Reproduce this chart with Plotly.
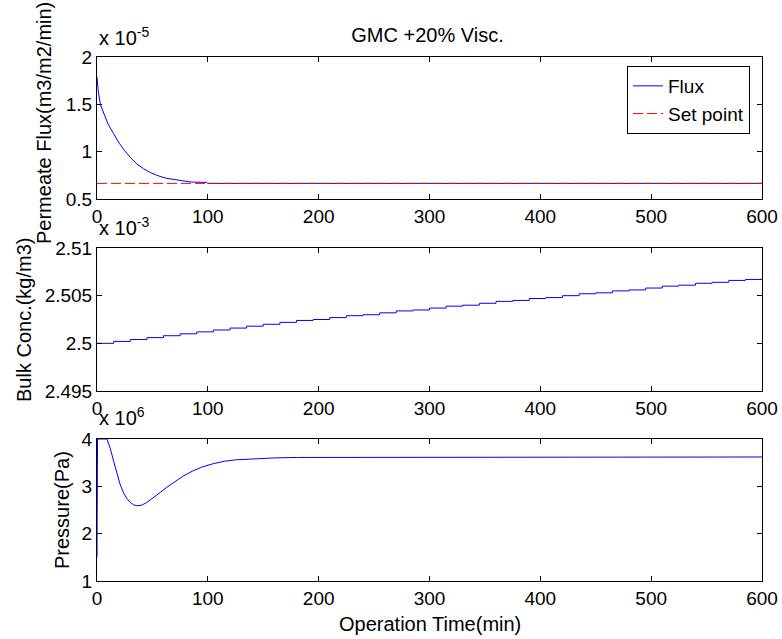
import plotly.graph_objects as go

# ---------------- data ----------------
# Permeate flux (x 1e-5 m3/m2/min)
flux_t = [0, 1, 3, 6, 10, 15, 20, 25, 30, 36, 42, 48, 54, 62, 72, 84, 99, 100, 600]
flux_v = [1.79, 1.65, 1.50, 1.40, 1.29, 1.19, 1.09, 1.01, 0.94, 0.87, 0.82, 0.78,
          0.75, 0.72, 0.70, 0.68, 0.675, 0.665, 0.665]
setpoint_t = [0, 600]
setpoint_v = [0.665, 0.665]

# Bulk concentration (x 1e-3 kg/m3), stepwise every 15 min
conc_t = [0, 15, 30, 45, 60, 75, 90, 105, 120, 135, 150, 165, 180, 195, 210, 225, 240,
          255, 270, 285, 300, 315, 330, 345, 360, 375, 390, 405, 420, 435, 450, 465,
          480, 495, 510, 525, 540, 555, 570, 585, 600]
conc_v = [2.5000, 2.5002, 2.5004, 2.5006, 2.5008, 2.5010, 2.5012, 2.5014, 2.5016,
          2.5018, 2.5020, 2.5022, 2.5024, 2.5025, 2.5027, 2.5029, 2.5030, 2.5032,
          2.5034, 2.5035, 2.5037, 2.5039, 2.5040, 2.5042, 2.5044, 2.5045, 2.5047,
          2.5048, 2.5050, 2.5052, 2.5053, 2.5055, 2.5056, 2.5058, 2.5060, 2.5061,
          2.5063, 2.5064, 2.5066, 2.5067, 2.5068]

# Pressure (x 1e6 Pa)
pres_t = [0, 0.5, 9, 12, 15, 18, 21, 24, 27, 30, 33, 36, 40, 45, 51, 57, 63, 70, 78,
          86, 95, 105, 115, 125, 140, 160, 180, 600]
pres_v = [1.5, 4.0, 4.0, 3.80, 3.53, 3.25, 3.03, 2.86, 2.74, 2.66, 2.61, 2.59, 2.60,
          2.66, 2.76, 2.87, 2.98, 3.10, 3.22, 3.32, 3.41, 3.48, 3.53, 3.56, 3.58,
          3.60, 3.61, 3.62]

x_ticks = [0, 100, 200, 300, 400, 500, 600]
flux_ticks = [0.5, 1, 1.5, 2]
conc_ticks = [2.495, 2.5, 2.505, 2.51]
conc_ticktext = ["2.495", "2.5", "2.505", "2.51"]
pres_ticks = [1, 2, 3, 4]

title = "GMC +20% Visc."
FONT = "Arial, Liberation Sans, sans-serif"
TICK_SIZE = 19
LABEL_SIZE = 20

# ---------------- figure ----------------
fig = go.Figure()
fig.add_trace(go.Scatter(x=flux_t, y=flux_v, mode="lines", name="Flux",
                         line=dict(color="#0000ff", width=1), xaxis="x", yaxis="y"))
fig.add_trace(go.Scatter(x=setpoint_t, y=setpoint_v, mode="lines", name="Set point",
                         line=dict(color="#ff0000", width=1, dash="10px,4px"),
                         xaxis="x", yaxis="y"))
fig.add_trace(go.Scatter(x=conc_t, y=conc_v, mode="lines", showlegend=False,
                         line=dict(color="#0000ff", width=1, shape="hv"),
                         xaxis="x2", yaxis="y2"))
fig.add_trace(go.Scatter(x=pres_t, y=pres_v, mode="lines", showlegend=False,
                         line=dict(color="#0000ff", width=1),
                         xaxis="x3", yaxis="y3"))

H_TOP, H_BOT = 57, 581
def py(p):
    return (H_BOT - p) / (H_BOT - H_TOP)
def px(p):
    return (p - 97) / 665

axis_common = dict(showline=True, linecolor="#000000", linewidth=1, mirror="allticks",
                   ticks="inside", ticklen=5, tickcolor="#000000", showgrid=False,
                   zeroline=False, tickfont=dict(family=FONT, size=TICK_SIZE, color="#000"))

fig.update_layout(
    width=782, height=639,
    margin=dict(l=97, r=20, t=57, b=58, autoexpand=False),
    paper_bgcolor="white", plot_bgcolor="white",
    font=dict(family=FONT, size=LABEL_SIZE, color="#000"),
    title=dict(text=title, x=px(427.5), xref="paper", xanchor="center",
               y=1 - 35 / 639, yref="container", yanchor="middle",
               font=dict(family=FONT, size=LABEL_SIZE, color="#000")),
    xaxis=dict(domain=[0, 1], anchor="y", range=[0, 600], tickvals=x_ticks, **axis_common),
    yaxis=dict(domain=[py(199), 1], anchor="x", range=[0.5, 2], tickvals=flux_ticks,
               **axis_common),
    xaxis2=dict(domain=[0, 1], anchor="y2", range=[0, 600], tickvals=x_ticks, **axis_common),
    yaxis2=dict(domain=[py(391), py(248)], anchor="x2", range=[2.495, 2.51],
                tickvals=conc_ticks, ticktext=conc_ticktext, **axis_common),
    xaxis3=dict(domain=[0, 1], anchor="y3", range=[0, 600], tickvals=x_ticks, **axis_common),
    yaxis3=dict(domain=[0, py(439)], anchor="x3", range=[1, 4], tickvals=pres_ticks,
                **axis_common),
    legend=dict(x=px(750), y=py(66), xanchor="right", yanchor="top",
                bgcolor="white", bordercolor="#000", borderwidth=1,
                font=dict(family=FONT, size=LABEL_SIZE - 1, color="#000"),
                tracegroupgap=0),
    showlegend=True,
)

annots = [
    dict(text="x 10<sup>-5</sup>", x=0, y=py(51), xanchor="left", yanchor="bottom"),
    dict(text="x 10<sup>-3</sup>", x=0, y=py(241), xanchor="left", yanchor="bottom"),
    dict(text="x 10<sup>6</sup>", x=0, y=py(431), xanchor="left", yanchor="bottom"),
    dict(text="Permeate Flux(m3/m2/min)", x=px(44), y=py(123), textangle=-90,
         xanchor="center", yanchor="middle"),
    dict(text="Bulk Conc.(kg/m3)", x=px(24), y=py(320), textangle=-90,
         xanchor="center", yanchor="middle"),
    dict(text="Pressure(Pa)", x=px(62), y=py(510), textangle=-90,
         xanchor="center", yanchor="middle"),
    dict(text="Operation Time(min)", x=px(429.5), y=py(624),
         xanchor="center", yanchor="middle"),
]
for a in annots:
    a.update(xref="paper", yref="paper", showarrow=False,
             font=dict(family=FONT, size=LABEL_SIZE, color="#000"))
fig.update_layout(annotations=annots)

fig.write_html("out.html", config={"displayModeBar": False},
               post_script="document.body.style.margin='0';document.body.style.overflow='hidden';")
